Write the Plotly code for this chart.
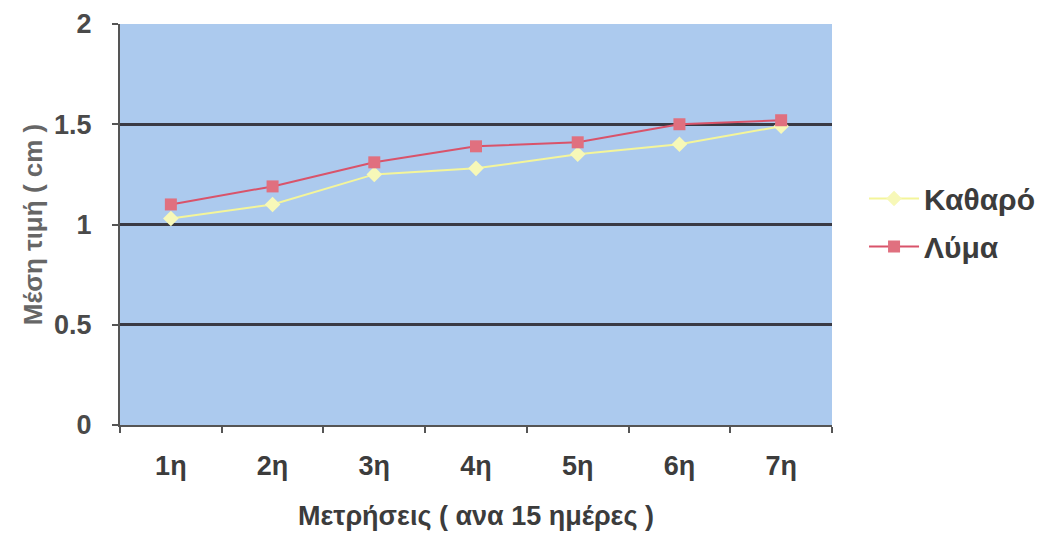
import plotly.graph_objects as go

categories = ["1η", "2η", "3η", "4η", "5η", "6η", "7η"]
katharo = [1.03, 1.10, 1.25, 1.28, 1.35, 1.40, 1.49]
lyma = [1.10, 1.19, 1.31, 1.39, 1.41, 1.50, 1.52]
y_ticks = [0, 0.5, 1, 1.5, 2]
y_tick_labels = ["0", "0.5", "1", "1.5", "2"]

font_family = "Liberation Sans, Arial, sans-serif"

fig = go.Figure()
fig.add_trace(go.Scatter(
    x=categories, y=katharo, name="<b>Καθαρό</b>", mode="lines+markers",
    legendgroup="a",
    line=dict(color="#f4f59a", width=2),
    marker=dict(symbol="diamond", size=12, color="#f7f8b8"),
))
fig.add_trace(go.Scatter(
    x=categories, y=lyma, name="<b>Λύμα</b>", mode="lines+markers",
    legendgroup="b",
    line=dict(color="#d9536a", width=2),
    marker=dict(symbol="square", size=12, color="#e0707f"),
))

fig.update_layout(
    width=1049, height=540,
    margin=dict(l=120, r=217, t=24, b=115, autoexpand=False),
    paper_bgcolor="white",
    plot_bgcolor="#accaee",
    font=dict(family=font_family, color="#4a4a4a"),
    legend=dict(
        x=1.045, y=0.505, xanchor="left", yanchor="middle",
        font=dict(size=30, color="#3c3c3c", family=font_family),
        bgcolor="rgba(0,0,0,0)", tracegroupgap=6,
        itemwidth=50,
    ),
    showlegend=True,
)
fig.update_xaxes(
    type="category", tickson="boundaries",
    ticks="outside", ticklen=6, tickwidth=2, tickcolor="#555",
    showline=True, linecolor="#555", linewidth=2,
    showgrid=False,
    tickfont=dict(size=27, color="#3c3c3c", family=font_family),
    ticklabelstandoff=16,
    title=dict(text="<b>Μετρήσεις ( ανα 15 ημέρες )</b>", font=dict(size=27, color="#3c3c3c"), standoff=26),
    range=[-0.5, 6.5],
)
fig.update_yaxes(
    range=[0, 2], tickvals=y_ticks, ticktext=["<b>%s</b>" % t for t in y_tick_labels],
    ticks="outside", ticklen=6, tickwidth=2, tickcolor="#555",
    showline=True, linecolor="#555", linewidth=2,
    showgrid=True, gridcolor="#3a3a44", gridwidth=2.5,
    zeroline=False,
    tickfont=dict(size=27, color="#4a4a4a", family=font_family),
    ticklabelstandoff=15,
    title=dict(text="<b>Μέση τιμή ( cm )</b>", font=dict(size=26, color="#666"), standoff=4),
)
fig.update_xaxes(ticktext=["<b>%s</b>" % c for c in categories], tickvals=categories)

fig.write_html("out.html")
